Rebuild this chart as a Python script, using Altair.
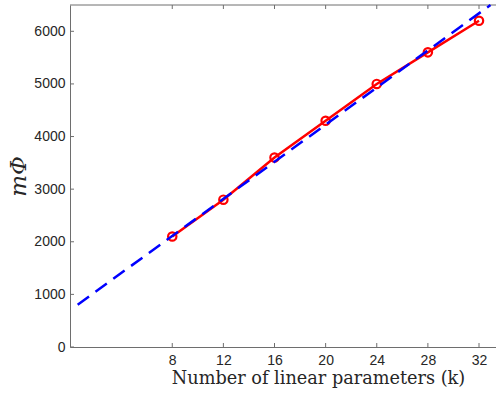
import altair as alt
import pandas as pd

# Data
k_values = [8, 12, 16, 20, 24, 28, 32]
m_phi = [2100, 2800, 3600, 4300, 5000, 5600, 6200]
fit_k = [0.6, 32.9]
fit_m = [805, 6500]
x_ticks = [8, 12, 16, 20, 24, 28, 32]
y_ticks = [0, 1000, 2000, 3000, 4000, 5000, 6000]

W, H = 426, 342
axis_color = "#6e6e6e"
label_color = "#262626"
serif = "'DejaVu Serif', 'Liberation Serif', serif"

xs = alt.Scale(domain=[0, 33.33], nice=False, zero=False)
ys = alt.Scale(domain=[0, 6500], nice=False)

meas = pd.DataFrame({"k": k_values, "m": m_phi})
fit = pd.DataFrame({"k": fit_k, "m": fit_m})
xt = pd.DataFrame({"k": x_ticks})
yt = pd.DataFrame({"m": y_ticks})
one = pd.DataFrame({"a": [0]})

x_axis = alt.Axis(
    values=x_ticks, ticks=False, tickSize=0, grid=False, format="d",
    domainColor=axis_color, domainWidth=1,
    labelFont="Liberation Sans", labelFontSize=14, labelColor=label_color,
    labelPadding=6,
    title="Number of linear parameters (k)", titleFont=serif,
    titleFontSize=17.7, titleFontWeight="normal", titleColor=label_color,
    titleX=248, titleY=36, titleAlign="center", titleBaseline="alphabetic",
)
y_axis = alt.Axis(
    values=y_ticks, ticks=False, tickSize=0, grid=False, format="d",
    domainColor=axis_color, domainWidth=1,
    labelFont="Liberation Sans", labelFontSize=14, labelColor=label_color,
    labelPadding=5,
    title="mΦ", titleFont=serif, titleFontStyle="italic",
    titleFontSize=23, titleFontWeight="normal", titleColor=label_color,
    titleAngle=270, titleX=-52, titleY=171, titleAlign="center",
    titleBaseline="middle",
)

X = alt.X("k:Q", scale=xs, axis=x_axis)
Y = alt.Y("m:Q", scale=ys, axis=y_axis)

red_line = alt.Chart(meas).mark_line(color="#ff0000", strokeWidth=2.5).encode(x=X, y=Y)
red_pts = alt.Chart(meas).mark_point(
    shape="circle", filled=False, color="#ff0000", size=70, strokeWidth=2.2, opacity=1
).encode(x=X, y=Y)
blue = alt.Chart(fit).mark_line(
    color="#0000ff", strokeWidth=2.5, strokeDash=[14, 8]
).encode(x=X, y=Y)

bottom_ticks = alt.Chart(xt).mark_rule(color=axis_color, strokeWidth=1).encode(
    x=X, y=alt.value(H), y2=alt.value(H - 4)
)
top_ticks = alt.Chart(xt).mark_rule(color=axis_color, strokeWidth=1).encode(
    x=X, y=alt.value(0), y2=alt.value(4)
)
left_ticks = alt.Chart(yt).mark_rule(color=axis_color, strokeWidth=1).encode(
    y=Y, x=alt.value(0), x2=alt.value(4)
)
top_line = alt.Chart(one).mark_rule(color=axis_color, strokeWidth=1).encode(
    x=alt.value(0), x2=alt.value(W), y=alt.value(0)
)

chart = alt.layer(
    bottom_ticks, top_ticks, left_ticks, top_line, red_line, red_pts, blue
).properties(
    width=W, height=H,
    padding={"left": 70, "top": 5, "right": 0, "bottom": 47},
    autosize="none",
    background="white",
).configure_view(stroke=None)

chart.save("out.html", embed_options={"renderer": "svg", "actions": False})
